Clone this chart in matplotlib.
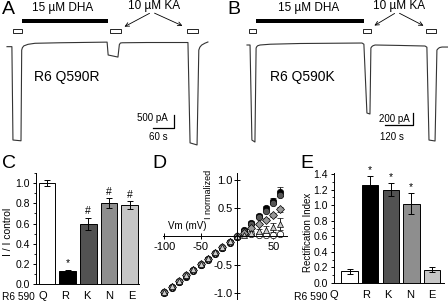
import numpy as np
import matplotlib
matplotlib.use('Agg')
import matplotlib.pyplot as plt
from matplotlib.patches import Rectangle, FancyArrowPatch
from matplotlib.ticker import MultipleLocator
import matplotlib.transforms as mtransforms

plt.rcParams['font.family'] = ['Liberation Sans', 'DejaVu Sans']
plt.rcParams['axes.unicode_minus'] = False

# ---- data ----
# trace A (s, pA)
ta = [0, 14, 17, 40, 42, 44, 48, 60, 80, 150, 286, 289, 317, 321, 324, 329, 400, 517, 523, 543, 548, 551, 556, 565, 574]
ia = [-180, -180, -3770, -3800, -310, -220, -150, -90, -50, -30, -5, -500, -580, -100, -40, -30, -20, -20, -3880, -3960, -310, -200, -120, -50, 0]
dha_a = (43, 289)
ka_a = [(17, 43), (294, 326), (514, 546)]

# trace B (s, pA)
tb = [0, 13, 21, 34, 39, 42, 46, 56, 100, 227, 493, 501, 514, 527, 531, 535, 540, 549, 650, 763, 771, 780, 806, 814, 820, 826, 836, 866]
ib = [-33, -33, -1617, -1650, -83, -60, -45, -33, -20, -8, 0, -20, -1167, -1183, -83, -60, -45, -33, -40, -50, -70, -1617, -1633, -117, -90, -75, -67, -67]
dha_b = (39, 501)
ka_b = [(9, 39), (497, 531), (767, 810)]

# bar charts
cats = ['Q', 'R', 'K', 'N', 'E']
bar_colors = ['white', 'black', '#525252', '#8e8e8e', '#c6c6c6']
ratio = [1.00, 0.13, 0.60, 0.80, 0.78]
ratio_err = [0.03, 0.01, 0.06, 0.05, 0.04]
ratio_mark = ['', '*', '#', '#', '#']
rect_idx = [0.15, 1.26, 1.20, 1.02, 0.17]
rect_err = [0.03, 0.11, 0.08, 0.13, 0.03]
rect_mark = ['', '*', '*', '*', '']

# I-V curves
vm = [-100, -90, -80, -70, -60, -50, -40, -30, -20, -10, 0, 10, 20, 30, 40, 50, 60]
iv_r = [-1.00, -0.91, -0.81, -0.71, -0.61, -0.51, -0.41, -0.31, -0.21, -0.11, -0.01, 0.12, 0.24, 0.37, 0.50, 0.63, 0.79]
iv_k = [-0.99, -0.90, -0.80, -0.70, -0.60, -0.50, -0.40, -0.30, -0.20, -0.10, -0.01, 0.10, 0.22, 0.34, 0.46, 0.59, 0.73]
iv_n = [-0.99, -0.89, -0.79, -0.69, -0.59, -0.49, -0.39, -0.29, -0.19, -0.09, 0.00, 0.07, 0.15, 0.22, 0.30, 0.38, 0.48]
iv_e = [-0.98, -0.88, -0.78, -0.68, -0.58, -0.48, -0.38, -0.28, -0.18, -0.08, 0.00, 0.03, 0.06, 0.09, 0.12, 0.16, 0.22]
iv_q = [-0.99, -0.89, -0.79, -0.69, -0.59, -0.49, -0.39, -0.29, -0.19, -0.09, 0.00, 0.04, 0.04, 0.03, 0.03, 0.03, 0.04]
err_r = [0.02, 0.02, 0.02, 0.02, 0.02, 0.02, 0.02, 0.01, 0.01, 0.01, 0.01, 0.02, 0.03, 0.03, 0.04, 0.06, 0.08]
err_n = [0.02, 0.02, 0.02, 0.02, 0.02, 0.02, 0.02, 0.01, 0.01, 0.01, 0.01, 0.01, 0.02, 0.02, 0.03, 0.03, 0.04]
err_e = [0.02, 0.02, 0.02, 0.02, 0.02, 0.02, 0.02, 0.01, 0.01, 0.01, 0.01, 0.02, 0.03, 0.04, 0.06, 0.08, 0.10]

W, H = 448, 301
fig = plt.figure(figsize=(W / 100, H / 100), dpi=100)


def fp(x, y):
    return (x / W, 1 - y / H)


def axes_px(left, top, right, bottom):
    return fig.add_axes([left / W, 1 - bottom / H, (right - left) / W, (bottom - top) / H])


def trace_panel(ax, t, i, dha, kas, bar_len, scale_corner):
    ax.plot(t, i, color='#333333', lw=0.8)
    trans = mtransforms.blended_transform_factory(ax.transData, ax.transAxes)
    ax.add_patch(Rectangle((dha[0], 0.847), dha[1] - dha[0], 0.026, transform=trans,
                           color='black', lw=0))
    for k0, k1 in kas:
        ax.add_patch(Rectangle((k0, 0.78), k1 - k0, 0.025, transform=trans,
                               facecolor='white', edgecolor='black', lw=0.6))
    sx, sy = scale_corner
    ax.plot([sx - bar_len[0], sx, sx], [sy, sy, sy + bar_len[1]], color='black', lw=0.9)
    ax.axis('off')


def arrows(start, ends):
    for end in ends:
        fig.add_artist(FancyArrowPatch(fp(*start), fp(*end), transform=fig.transFigure,
                                       arrowstyle='->', mutation_scale=7, lw=0.6, color='black'))


# ---- A ----
axA = axes_px(0, 0, 224, 150)
axA.set_xlim(-20, 620)
axA.set_ylim(-4154, 1615)
trace_panel(axA, ta, ia, dha_a, ka_a, (60, 500), (477, -3308))
fig.text(*fp(2, 9), 'A', fontsize=14, va='center')
fig.text(*fp(63, 8), '15 µM DHA', fontsize=8.5, ha='center', va='center')
fig.text(*fp(154, 6), '10 µM KA', fontsize=8.5, ha='center', va='center')
fig.text(*fp(67, 77), 'R6 Q590R', fontsize=10, ha='center', va='center')
fig.text(*fp(168, 118), '500 pA', fontsize=7, ha='right', va='center')
fig.text(*fp(158, 137), '60 s', fontsize=7, ha='center', va='center')
arrows((152, 12), [(122, 28), (185, 27)])

# ---- B ----
axB = axes_px(224, 0, 448, 150)
axB.set_xlim(-98.6, 861.5)
axB.set_ylim(-1783, 717)
trace_panel(axB, tb, ib, dha_b, ka_b, (120, 200), (711, -1367))
fig.text(*fp(227, 10), 'B', fontsize=14, va='center')
fig.text(*fp(309, 8), '15 µM DHA', fontsize=8.5, ha='center', va='center')
fig.text(*fp(399, 6), '10 µM KA', fontsize=8.5, ha='center', va='center')
fig.text(*fp(302, 77), 'R6 Q590K', fontsize=10, ha='center', va='center')
fig.text(*fp(410, 119), '200 pA', fontsize=7, ha='right', va='center')
fig.text(*fp(392, 137), '120 s', fontsize=7, ha='center', va='center')
arrows((397, 12), [(372, 27), (426, 27)])


def bar_panel(ax, vals, errs, marks, xlim, ylim, major, lab_pos):
    x = np.arange(len(cats))
    ax.bar(x, vals, width=0.8, color=bar_colors, edgecolor='black', lw=0.7,
           yerr=errs, error_kw=dict(ecolor='black', elinewidth=0.7, capsize=2.2, capthick=0.7))
    for xi, v, e, m in zip(x, vals, errs, marks):
        if m:
            ax.text(xi, v + e + 0.015, m, ha='center', va='bottom', fontsize=7.5)
    ax.set_xlim(*xlim)
    ax.set_ylim(*ylim)
    ax.yaxis.set_major_locator(MultipleLocator(major))
    ax.yaxis.set_minor_locator(MultipleLocator(0.1))
    ax.yaxis.set_major_formatter(plt.FormatStrFormatter('%.1f'))
    ax.set_xticks(lab_pos)
    ax.set_xticklabels(cats)
    ax.tick_params(axis='x', length=0, labelsize=8, pad=5)
    ax.tick_params(axis='y', which='major', length=2.5, width=0.7, labelsize=7.5, pad=2)
    ax.tick_params(axis='y', which='minor', length=1.5, width=0.6)
    for s in ['top', 'right']:
        ax.spines[s].set_visible(False)
    for s in ['left', 'bottom']:
        ax.spines[s].set_linewidth(0.7)


# ---- C ----
axC = axes_px(36, 173.2, 139, 284)
bar_panel(axC, ratio, ratio_err, ratio_mark, (-0.526, 4.45), (0, 1.1), 0.2,
          [-0.2, 0.86, 1.91, 3.01, 4.11])
fig.text(*fp(2, 163), 'C', fontsize=14, va='center')
fig.text(*fp(8, 232), 'I / I control', fontsize=7.5, rotation=90, ha='center', va='center')
fig.text(*fp(35, 297), 'R6 590', fontsize=7.3, ha='right', va='center')

# ---- E ----
axE = axes_px(334, 173.2, 444, 283)
bar_panel(axE, rect_idx, rect_err, rect_mark, (-0.75, 4.59), (0, 1.41), 0.2,
          [-0.76, 0.82, 1.87, 2.94, 3.99])
fig.text(*fp(300, 163), 'E', fontsize=14, va='center')
fig.text(*fp(308, 232), 'Rectification Index', fontsize=7, rotation=90, ha='center', va='center')
fig.text(*fp(327, 297), 'R6 590', fontsize=7.5, ha='right', va='center')

# ---- D ----
axD = axes_px(163, 172.7, 287, 298.6)
axD.set_xlim(-102, 69)
axD.set_ylim(-1.1, 1.13)
series = [(iv_r, err_r, 'o', 'black'), (iv_k, None, 'o', '#555555'),
          (iv_q, None, 'o', 'white'), (iv_n, err_n, 'D', '#999999'),
          (iv_e, err_e, '^', '#cccccc')]
for vals, err, mk, col in series:
    ms = 4.0 if mk == 'D' else 4.6
    axD.errorbar(vm, vals, yerr=err, fmt=mk, ms=ms, mfc=col, mec='black', mew=0.5,
                 ecolor='black', elinewidth=0.6, capsize=2, capthick=0.6, clip_on=False)
for s in ['top', 'right']:
    axD.spines[s].set_visible(False)
for s in ['left', 'bottom']:
    axD.spines[s].set_position(('data', 0))
    axD.spines[s].set_linewidth(0.7)
axD.set_xticks([-100, -50, 50])
axD.set_yticks([-1.0, -0.5, 0.5, 1.0])
axD.yaxis.set_major_formatter(plt.FormatStrFormatter('%.1f'))
axD.tick_params(direction='inout', length=4, width=0.7, labelsize=8)
axD.tick_params(axis='x', pad=2)
axD.tick_params(axis='y', pad=1)
fig.text(*fp(152, 163), 'D', fontsize=14, va='center')
fig.text(*fp(187, 226), 'Vm (mV)', fontsize=7, ha='center', va='center')
fig.text(*fp(208, 194), 'I normalized', fontsize=6.5, rotation=90, ha='center', va='center')

fig.savefig('out.png', dpi=100)
